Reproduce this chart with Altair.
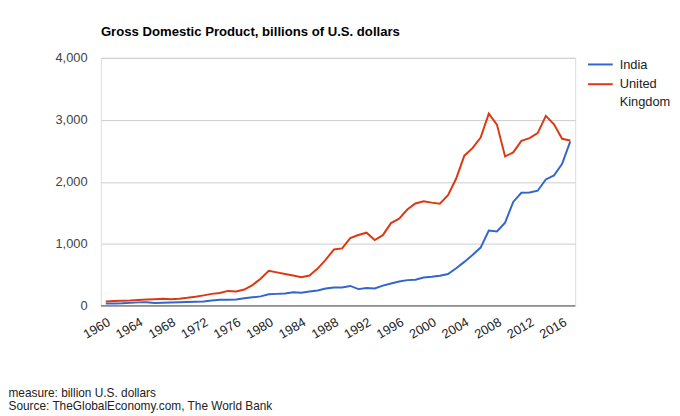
import altair as alt
import pandas as pd

years = list(range(1960, 2018))
india = [37, 39, 42, 48, 56, 59, 45, 50, 53, 58, 62, 67, 71, 85, 99, 98, 103, 122, 137, 153,
         186, 193, 200, 218, 212, 232, 248, 279, 297, 296, 321, 270, 288, 279, 327, 360, 392, 415, 421, 458,
         468, 485, 514, 607, 709, 820, 940, 1216, 1199, 1342, 1676, 1823, 1828, 1857, 2039, 2103, 2290, 2653]
uk = [72, 77, 81, 86, 94, 101, 108, 113, 107, 116, 130, 148, 169, 193, 206, 241, 232, 263, 335, 438,
      564, 540, 515, 490, 462, 489, 601, 745, 910, 926, 1093, 1142, 1180, 1062, 1140, 1335, 1405, 1554, 1652, 1687,
      1665, 1649, 1785, 2054, 2422, 2544, 2713, 3100, 2923, 2410, 2475, 2660, 2704, 2786, 3064, 2928, 2694, 2666]
series_names = ["India", "United Kingdom"]
series_colors = ["#3366cc", "#dc3912"]
x_ticks = list(range(1960, 2017, 4))
y_ticks = [0, 1000, 2000, 3000, 4000]
footer = ["measure: billion U.S. dollars", "Source: TheGlobalEconomy.com, The World Bank"]

df = pd.DataFrame({
    "year": years * 2,
    "value": india + uk,
    "series": ["India"] * len(years) + ["United Kingdom"] * len(years),
})
legend_df = pd.DataFrame({"series": series_names, "idx": list(range(len(series_names)))})

FONT = "Liberation Sans"
color_scale = alt.Scale(domain=series_names, range=series_colors)

lines = alt.Chart(df).mark_line(strokeWidth=2).encode(
    x=alt.X("year:Q",
            scale=alt.Scale(domain=[1959.4, 2017.6], nice=False, zero=False),
            axis=alt.Axis(values=x_ticks, format="d", labelAngle=330, labelAlign="right",
                          labelBaseline="top", labelPadding=10, ticks=False, domain=False,
                          grid=False, labelFontSize=13, labelColor="#222", labelFont=FONT,
                          title=footer, titleX=-94, titleY=92, titleAlign="left",
                          titleBaseline="alphabetic", titleAngle=0, titleFontSize=12,
                          titleFontWeight="normal", titleColor="#222", titleFont=FONT,
                          titleLineHeight=12.5)),
    y=alt.Y("value:Q",
            scale=alt.Scale(domain=[0, 4000], nice=False),
            axis=alt.Axis(values=y_ticks, format=",d", ticks=False, domain=False,
                          gridColor="#cccccc", labelPadding=14, labelFontSize=13,
                          labelColor="#444", labelFont=FONT, title=None)),
    color=alt.Color("series:N", scale=color_scale, legend=None),
)

baseline = alt.Chart(pd.DataFrame({"v": [0]})).mark_rule(color="#555", strokeWidth=1).encode(
    y=alt.Y("v:Q", scale=alt.Scale(domain=[0, 4000], nice=False), axis=None)
)

legend_y = alt.Y("idx:Q", scale=alt.Scale(domain=[0, 1], range=[6.7, 26.7]), axis=None)
legend_rule = alt.Chart(legend_df).mark_rule(strokeWidth=2).encode(
    x=alt.value(493), x2=alt.value(518), y=legend_y,
    color=alt.Color("series:N", scale=color_scale, legend=None),
)
legend_text = alt.Chart(legend_df).transform_calculate(
    label="replace(datum.series, ' ', '\\n')"
).mark_text(align="left", baseline="alphabetic", dy=4.3, fontSize=13, font=FONT,
            color="#222", lineBreak="\n", lineHeight=18).encode(
    x=alt.value(525), y=legend_y, text="label:N",
)
legend = alt.layer(legend_rule, legend_text)

chart = alt.layer(lines, baseline, legend).resolve_scale(y="independent").properties(
    width=480, height=251,
    autosize=alt.AutoSizeParams(type="none"),
    padding={"left": 94, "top": 48, "right": 98, "bottom": 106},
    title=alt.TitleParams("Gross Domestic Product, billions of U.S. dollars",
                          anchor="start", frame="group", offset=3, baseline="alphabetic",
                          fontSize=13.3, fontWeight="bold", font=FONT, color="#000"),
).configure_view(stroke=None).configure(background="white")

chart.save("out.html", embed_options={"renderer": "svg", "actions": False})
